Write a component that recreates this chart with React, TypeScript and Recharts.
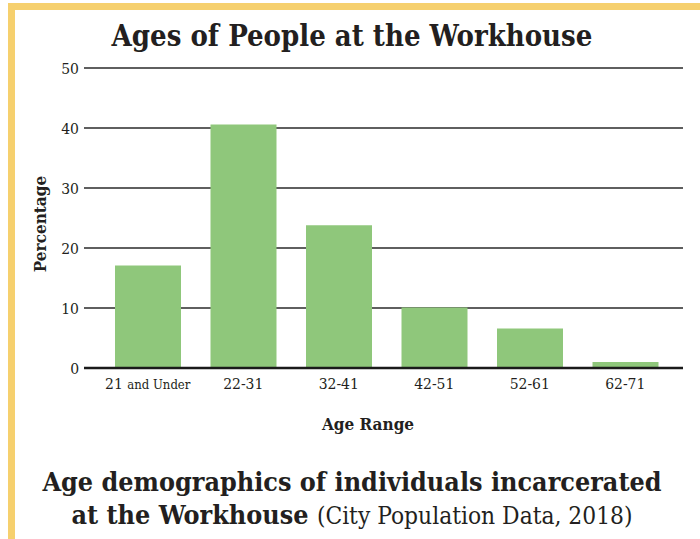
import React from "react";
import { BarChart, Bar, XAxis, YAxis, CartesianGrid } from "recharts";

const categories = ["21 and Under", "22-31", "32-41", "42-51", "52-61", "62-71"];
const percentages = [17.1, 40.6, 23.8, 10.1, 6.6, 1.0];
const yTicks = [0, 10, 20, 30, 40, 50];

const data = categories.map((c, i) => ({ age: c, pct: percentages[i] }));

const SERIF = "'DejaVu Serif Condensed', 'DejaVu Serif', serif";
const INK = "#231f20";

const XTick = (props: any) => {
  const { x, y, payload } = props;
  const v: string = payload.value;
  if (v === "21 and Under") {
    return (
      <text x={x} y={y} dy={13} textAnchor="middle" fontFamily={SERIF} fill={INK}>
        <tspan fontSize={15.5}>21 </tspan>
        <tspan fontSize={13}>and Under</tspan>
      </text>
    );
  }
  return (
    <text x={x} y={y} dy={13} textAnchor="middle" fontFamily={SERIF} fontSize={15.5} fill={INK}>
      {v}
    </text>
  );
};

export default function App() {
  return (
    <div style={{ position: "fixed", left: 0, top: 0, width: 700, height: 539, background: "#fff", overflow: "hidden" }}>
      <div
        style={{
          position: "absolute",
          left: 8,
          top: 3,
          width: 700,
          height: 545,
          boxSizing: "border-box",
          border: "7px solid #F6D06E",
        }}
      />
      <div
        style={{
          position: "absolute",
          left: 0,
          width: 704,
          top: 18,
          textAlign: "center",
          fontFamily: SERIF,
          fontWeight: 700,
          fontSize: 29,
          color: INK,
          lineHeight: "36px",
        }}
      >
        Ages of People at the Workhouse
      </div>
      <div style={{ position: "absolute", left: 0, top: 0 }}>
        <BarChart
          width={700}
          height={539}
          data={data}
          margin={{ top: 68, right: 17, left: 44, bottom: 141 }}
        >
          <CartesianGrid vertical={false} stroke="#2a2a2a" strokeWidth={1.5} />
          <XAxis
            dataKey="age"
            tick={<XTick />}
            tickLine={false}
            axisLine={{ stroke: "#1a1a1a", strokeWidth: 2.5 }}
            padding={{ left: 16, right: 10 }}
            height={30}
            interval={0}
          />
          <YAxis
            domain={[0, 50]}
            ticks={yTicks}
            width={40}
            tickLine={false}
            axisLine={false}
            tickSize={0}
            tickMargin={5}
            tick={{ fontFamily: SERIF, fontSize: 15.5, fill: INK }}
          />
          <Bar dataKey="pct" fill="#8FC77B" barSize={66} isAnimationActive={false} />
        </BarChart>
      </div>
      <div
        style={{
          position: "absolute",
          left: 40 - 60,
          top: 224 - 10,
          width: 120,
          height: 20,
          lineHeight: "20px",
          textAlign: "center",
          transform: "rotate(-90deg)",
          fontFamily: SERIF,
          fontWeight: 700,
          fontSize: 17,
          color: INK,
        }}
      >
        Percentage
      </div>
      <div
        style={{
          position: "absolute",
          left: 368 - 80,
          top: 414,
          width: 160,
          lineHeight: "20px",
          textAlign: "center",
          fontFamily: SERIF,
          fontWeight: 700,
          fontSize: 17,
          color: INK,
        }}
      >
        Age Range
      </div>
      <div
        style={{
          position: "absolute",
          left: 0,
          width: 704,
          top: 465,
          textAlign: "center",
          fontFamily: SERIF,
          color: INK,
          fontSize: 26.7,
          lineHeight: "33px",
        }}
      >
        <div style={{ fontWeight: 700 }}>Age demographics of individuals incarcerated</div>
        <div>
          <span style={{ fontWeight: 700 }}>at the Workhouse </span>
          <span style={{ fontSize: 24.3 }}>(City Population Data, 2018)</span>
        </div>
      </div>
    </div>
  );
}
